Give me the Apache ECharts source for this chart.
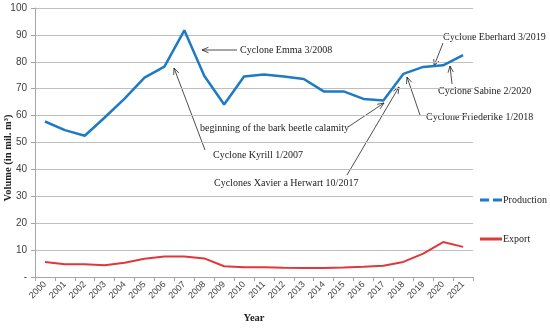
<!DOCTYPE html>
<html><head><meta charset="utf-8">
<script src="https://cdn.jsdelivr.net/npm/echarts@6/dist/echarts.min.js"></script>
<style>html,body{margin:0;padding:0;background:#fff}#c{width:550px;height:329px}</style>
</head><body><div id="c"></div>
<script>
const years = ['2000','2001','2002','2003','2004','2005','2006','2007','2008','2009','2010','2011','2012','2013','2014','2015','2016','2017','2018','2019','2020','2021'];
const production = [57.8,54.6,52.5,59.3,66.3,74.1,78.2,91.7,74.8,64.1,74.5,75.3,74.5,73.6,69.0,69.0,66.2,65.6,75.5,78.1,78.7,82.5];
const exportVals = [5.6,4.7,4.7,4.4,5.3,6.8,7.6,7.6,6.9,4.0,3.6,3.6,3.4,3.3,3.3,3.5,3.8,4.2,5.6,8.7,13.0,11.2];
const yTicks = [0,10,20,30,40,50,60,70,80,90,100];

const serif = '"Liberation Serif", "DejaVu Serif", serif';
const blue = '#1f7ac4', red = '#e0383a';
const annotations = [
  {text:'Cyclone Emma 3/2008', tx:240, ty:50, line:[237,50,202,50]},
  {text:'Cyclone Kyrill 1/2007', tx:213, ty:155, line:[205,150,174,68]},
  {text:'beginning of the bark beetle calamity', tx:200, ty:128, line:[348,127,384,103]},
  {text:'Cyclones Xavier a Herwart 10/2017', tx:214, ty:183, line:[347,175,399,87]},
  {text:'Cyclone Friederike 1/2018', tx:426, ty:117, line:[420,115,407,77]},
  {text:'Cyclone Eberhard 3/2019', tx:443, ty:37, line:[443,43,434,66]},
  {text:'Cyclone Sabine 2/2020', tx:438, ty:91, line:[452,84,450,66]}
];
const graphics = [];
annotations.forEach(a => {
  const [x1,y1,x2,y2] = a.line;
  const ang = Math.atan2(y1-y2, x1-x2);
  const L = 7, s = 0.4;
  graphics.push({type:'line', shape:{x1,y1,x2,y2}, style:{stroke:'#222', lineWidth:0.8}, silent:true});
  graphics.push({type:'polyline', shape:{points:[[x2+L*Math.cos(ang+s), y2+L*Math.sin(ang+s)],[x2,y2],[x2+L*Math.cos(ang-s), y2+L*Math.sin(ang-s)]]}, style:{stroke:'#222', lineWidth:0.8, fill:null}, silent:true});
  graphics.push({type:'text', x:a.tx, y:a.ty, style:{text:a.text, font:'10px ' + serif, fill:'#222', verticalAlign:'middle', textAlign:'left'}, silent:true});
});
graphics.push({type:'text', x:8, y:158, rotation:Math.PI/2, style:{text:'Volume (in mil. m³)', font:'bold 10.5px ' + serif, fill:'#222', textAlign:'center', verticalAlign:'middle'}, silent:true});

const chart = echarts.init(document.getElementById('c'));
chart.setOption({
  animation:false,
  grid:{left:35, right:77, top:8, bottom:46},
  legend:{
    orient:'vertical', left:475, top:190, itemGap:29, itemWidth:22, itemHeight:3, padding:5,
    textStyle:{fontFamily:serif, fontSize:10, color:'#222', padding:[0,0,0,-4]},
    data:[
      {name:'Production', icon:'path://M0,0H9V3H0Z M13,0H22V3H13Z', itemStyle:{color:blue, borderWidth:0}},
      {name:'Export', icon:'rect', itemStyle:{color:red, borderWidth:0}}
    ]
  },
  xAxis:{
    type:'category', data:years, boundaryGap:true,
    name:'Year', nameLocation:'middle', nameGap:36,
    nameTextStyle:{fontFamily:serif, fontWeight:'bold', fontSize:10.5, color:'#222'},
    axisLine:{lineStyle:{color:'#a6a6a6'}},
    axisTick:{show:true, length:4, lineStyle:{color:'#a6a6a6'}},
    axisLabel:{rotate:45, fontSize:9, color:'#404040', fontFamily:'"Liberation Sans", sans-serif', margin:6}
  },
  yAxis:{
    type:'value', min:0, max:100, interval:10,
    axisLine:{show:true, lineStyle:{color:'#a6a6a6'}},
    axisTick:{show:true, length:4, lineStyle:{color:'#a6a6a6'}},
    splitLine:{lineStyle:{color:'#bfbfbf'}},
    axisLabel:{fontSize:10, color:'#404040', fontFamily:'"Liberation Sans", sans-serif', margin:8,
      formatter: v => yTicks.includes(v) ? (v === 0 ? '-' : String(v)) : ''}
  },
  series:[
    {name:'Production', type:'line', data:production, symbol:'none', color:blue, lineStyle:{width:2.5, color:blue}},
    {name:'Export', type:'line', data:exportVals, symbol:'none', color:red, lineStyle:{width:2, color:red}}
  ],
  graphic:graphics
});
</script></body></html>
